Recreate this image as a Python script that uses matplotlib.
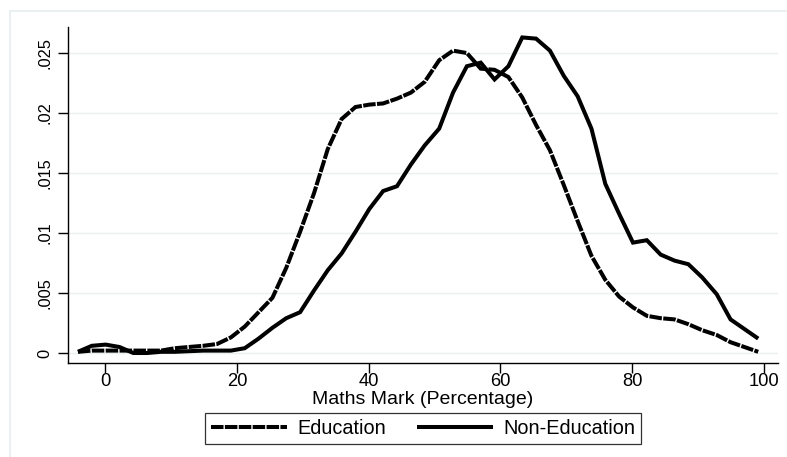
import matplotlib
matplotlib.use("Agg")
import matplotlib.pyplot as plt
from matplotlib.patches import Rectangle

plt.rcParams['font.family'] = ['Liberation Sans', 'DejaVu Sans']
plt.rcParams['lines.scale_dashes'] = False

# Evaluation grid (percentage marks)
marks = [-4.1, -2.0, 0.1, 2.2, 4.3, 6.4, 8.5, 10.6, 12.7, 14.9,
         17.0, 19.1, 21.2, 23.3, 25.4, 27.5, 29.6, 31.7, 33.8, 35.9,
         38.0, 40.1, 42.2, 44.3, 46.4, 48.5, 50.7, 52.8, 54.9, 57.0,
         59.1, 61.2, 63.3, 65.4, 67.5, 69.6, 71.7, 73.8, 75.9, 78.0,
         80.1, 82.2, 84.3, 86.4, 88.5, 90.6, 92.8, 94.9, 97.0, 99.1]

education = [0.0001, 0.0002, 0.0002, 0.0002, 0.0002, 0.0002, 0.0002, 0.0004, 0.0005, 0.0006,
             0.00075, 0.0013, 0.0022, 0.0034, 0.0046, 0.0071, 0.0101, 0.0133, 0.0170, 0.0195,
             0.0205, 0.0207, 0.0208, 0.0212, 0.0217, 0.0226, 0.0244, 0.0252, 0.0250, 0.0237,
             0.0236, 0.0230, 0.0213, 0.0190, 0.0169, 0.0140, 0.0110, 0.0081, 0.0061, 0.0047,
             0.0038, 0.0031, 0.0029, 0.0028, 0.0024, 0.0019, 0.0015, 0.0009, 0.0005, 0.0001]

non_education = [0.0001, 0.0006, 0.0007, 0.0005, 0.0000, 0.0000, 0.0001, 0.0001, 0.00015, 0.0002,
                 0.0002, 0.0002, 0.0004, 0.0012, 0.0021, 0.0029, 0.0034, 0.0052, 0.0069, 0.0083,
                 0.0101, 0.0120, 0.0135, 0.0139, 0.0157, 0.0173, 0.0187, 0.0217, 0.0239, 0.0242,
                 0.0228, 0.0239, 0.0263, 0.0262, 0.0252, 0.0231, 0.0214, 0.0187, 0.0141, 0.0116,
                 0.0092, 0.0094, 0.0082, 0.0077, 0.0074, 0.0063, 0.0049, 0.0028, 0.0020, 0.0012]

x_ticks = [0, 20, 40, 60, 80, 100]
y_ticks = [0, 0.005, 0.01, 0.015, 0.02, 0.025]
y_tick_labels = ['0', '.005', '.01', '.015', '.02', '.025']
series_labels = ['Education', 'Non-Education']
x_label = 'Maths Mark (Percentage)'

W, H = 787, 457
fig = plt.figure(figsize=(W / 100, H / 100), dpi=100)
fig.patch.set_facecolor('white')

# outer light frame (right/bottom edges fall outside the image)
fig.add_artist(Rectangle((10 / W, -0.05), 1.2, (1 - 11 / H) + 0.05,
                         transform=fig.transFigure, fill=False,
                         edgecolor='#e6eeef', linewidth=1.2))

ax = fig.add_axes([68 / W, 1 - 363 / H, (778 - 68) / W, (363 - 27) / H])
ax.set_facecolor('white')

grid_c = '#e8f0f1'
for yv in y_ticks:
    ax.axhline(yv, color=grid_c, linewidth=1.0, zorder=0)

l1, = ax.plot(marks, education, color='black', linewidth=2.9,
              dashes=(9.0, 1.0), dash_capstyle='butt', dash_joinstyle='miter',
              label=series_labels[0], zorder=3)
l2, = ax.plot(marks, non_education, color='black', linewidth=2.9,
              solid_capstyle='butt', solid_joinstyle='miter',
              label=series_labels[1], zorder=3)

ax.set_xlim(-5.61, 102.1)
ax.set_ylim(-0.000833, 0.02717)

for s in ['top', 'right']:
    ax.spines[s].set_visible(False)
for s in ['left', 'bottom']:
    ax.spines[s].set_linewidth(1.0)
    ax.spines[s].set_color('black')

ax.set_xticks(x_ticks)
ax.set_xticklabels([str(v) for v in x_ticks])
ax.set_yticks(y_ticks)
ax.set_yticklabels(y_tick_labels, rotation=90, va='center')
ax.tick_params(axis='both', direction='out', length=7, width=1.0,
               colors='black')
ax.tick_params(axis='x', labelsize=13.2, pad=0.5)
ax.tick_params(axis='y', labelsize=11.8, pad=4)

ax.set_xlabel(x_label, fontsize=14, va='top')
ax.xaxis.set_label_coords(0.5, -(391 - 363) / (363 - 27))

leg = ax.legend(handles=[l1, l2], labels=series_labels, loc='upper center',
                bbox_to_anchor=(0.5, -(413 - 363) / (363 - 27)), ncol=2, frameon=True,
                fancybox=False, edgecolor='black', fontsize=14.3,
                handlelength=3.85, handletextpad=0.5, columnspacing=1.55,
                borderpad=0.3, borderaxespad=0, handleheight=0.7)
leg.get_frame().set_linewidth(0.9)

fig.savefig('out.png', dpi=100, facecolor='white')
